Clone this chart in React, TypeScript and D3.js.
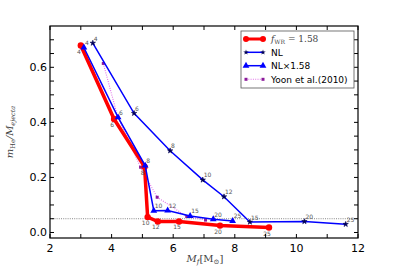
import React from 'react';
import * as d3 from 'd3';

// f_WR = 1.58 model
const redMass = [3.0, 4.08, 5.07, 5.17, 5.5, 6.19, 7.52, 9.11];
const redHe = [0.679, 0.412, 0.239, 0.056, 0.040, 0.040, 0.025, 0.018];
const redLabels = ['4', '6', '8', '10', '12', '15', '20', '25'];

// NL
const nlMass = [3.39, 4.73, 5.9, 6.96, 7.65, 8.49, 10.26, 11.6];
const nlHe = [0.688, 0.433, 0.297, 0.191, 0.130, 0.038, 0.040, 0.030];
const nlLabels = ['4', '6', '8', '10', '12', '15', '20', '25'];

// NL x 1.58
const nl158Mass = [3.1, 4.21, 5.09, 5.37, 5.82, 6.55, 7.3, 7.93];
const nl158He = [0.672, 0.418, 0.243, 0.079, 0.080, 0.060, 0.048, 0.042];
const nl158Labels = ['4', '6', '8', '10', '12', '15', '20', '25'];

// Yoon et al. (2010)
const yoonMass = [3.73, 4.2, 4.94, 5.48, 6.44, 7.05];
const yoonHe = [0.614, 0.42, 0.237, 0.128, 0.058, 0.045];

const xTicks = [2, 3, 4, 5, 6, 7, 8, 9, 10, 11, 12];
const yTicks = [0, 0.05, 0.1, 0.15, 0.2, 0.25, 0.3, 0.35, 0.4, 0.45, 0.5, 0.55, 0.6, 0.65, 0.7];
const yLabelTicks = [0, 0.2, 0.4, 0.6];
const xLabelTicks = [2, 4, 6, 8, 10, 12];

const W = 399;
const H = 266;
const left = 50, right = 358, top = 26, bottom = 238;

const RED = '#ff0000';
const BLUE = '#0000ff';
const PURPLE = '#8b1a9b';
const PINK = '#e070e8';

const x = d3.scaleLinear().domain([2, 12]).range([left, right]);
const y = d3.scaleLinear().domain([-0.02, 0.75]).range([bottom, top]);

const zip = (xs: number[], ys: number[]) => xs.map((v, i) => [v, ys[i]] as [number, number]);
const line = d3.line<[number, number]>().x(d => x(d[0])).y(d => y(d[1]));

const star = d3.symbol().type(d3.symbolStar).size(9)() as string;
const tri = d3.symbol().type(d3.symbolTriangle).size(20)() as string;
const sq = d3.symbol().type(d3.symbolSquare).size(9)() as string;

const sans = 'DejaVu Sans, sans-serif';
const serif = 'DejaVu Serif, serif';

export default function App() {
  const red = zip(redMass, redHe);
  const nl = zip(nlMass, nlHe);
  const nl158 = zip(nl158Mass, nl158He);
  const yoon = zip(yoonMass, yoonHe);

  return (
    <svg width={W} height={H} style={{ position: 'absolute', left: 0, top: 0, background: '#fff' }}>
      <defs>
        <clipPath id="plot">
          <rect x={left} y={top} width={right - left} height={bottom - top} />
        </clipPath>
      </defs>

      <g clipPath="url(#plot)">
        {/* reference level */}
        <line x1={x(2)} x2={x(12)} y1={y(0.05)} y2={y(0.05)} stroke="#888" strokeWidth={1} strokeDasharray="1,1.2" />

        {/* Yoon et al. */}
        <path d={line(yoon) || ''} fill="none" stroke={PINK} strokeWidth={1.1} strokeDasharray="1,1.3" />
        {yoon.map((d, i) => (
          <path key={'y' + i} d={sq} transform={`translate(${x(d[0])},${y(d[1])})`} fill={PURPLE} />
        ))}

        {/* NL */}
        <path d={line(nl) || ''} fill="none" stroke={BLUE} strokeWidth={1.5} />
        {nl.map((d, i) => (
          <path key={'n' + i} d={star} transform={`translate(${x(d[0])},${y(d[1])})`} fill="#000055" stroke="#000055" strokeWidth={0.6} />
        ))}

        {/* red */}
        <path d={line(red) || ''} fill="none" stroke={RED} strokeWidth={3.5} />
        {red.map((d, i) => (
          <circle key={'r' + i} cx={x(d[0])} cy={y(d[1])} r={3.2} fill={RED} />
        ))}

        {/* NL x 1.58 */}
        <path d={line(nl158) || ''} fill="none" stroke={BLUE} strokeWidth={1.5} />
        {nl158.map((d, i) => (
          <path key={'t' + i} d={tri} transform={`translate(${x(d[0])},${y(d[1])})`} fill={BLUE} />
        ))}
      </g>

      {/* point labels */}
      <g fontFamily={sans} fontSize={6} fill="#555">
        {red.map((d, i) => (
          <text key={'rl' + i} x={x(d[0]) - 2} y={y(d[1]) + 8} textAnchor="middle">{redLabels[i]}</text>
        ))}
        {nl.map((d, i) => (
          <text key={'nl' + i} x={x(d[0]) + 1} y={y(d[1]) - 2.5}>{nlLabels[i]}</text>
        ))}
        {nl158.map((d, i) => (
          <text key={'tl' + i} x={x(d[0]) + 1} y={y(d[1]) - 2.5}>{nl158Labels[i]}</text>
        ))}
      </g>

      {/* frame and ticks */}
      <rect x={left} y={top} width={right - left} height={bottom - top} fill="none" stroke="#000" strokeWidth={1.2} />
      <g stroke="#000" strokeWidth={1}>
        {xTicks.map(t => (
          <g key={'xt' + t}>
            <line x1={x(t)} x2={x(t)} y1={bottom} y2={bottom - 4} />
            <line x1={x(t)} x2={x(t)} y1={top} y2={top + 4} />
          </g>
        ))}
        {yTicks.map(t => (
          <g key={'yt' + t}>
            <line x1={left} x2={left + 4} y1={y(t)} y2={y(t)} />
            <line x1={right} x2={right - 4} y1={y(t)} y2={y(t)} />
          </g>
        ))}
      </g>
      <g fontFamily={sans} fontSize={11} fill="#000">
        {xLabelTicks.map(t => (
          <text key={'xl' + t} x={x(t)} y={bottom + 14} textAnchor="middle">{t}</text>
        ))}
        {yLabelTicks.map(t => (
          <text key={'yl' + t} x={left - 3} y={y(t) + 4} textAnchor="end">{d3.format('.1f')(t)}</text>
        ))}
      </g>

      {/* axis labels */}
      <text x={205} y={262} textAnchor="middle" fontFamily={serif} fontSize={10} fill="#444">
        <tspan fontStyle="italic">M</tspan>
        <tspan fontSize={7} dy={2} fontStyle="italic">f</tspan>
        <tspan dy={-2}>[M</tspan>
        <tspan fontSize={7} dy={2}>⊙</tspan>
        <tspan dy={-2}>]</tspan>
      </text>
      <text transform={`translate(13,${(top + bottom) / 2}) rotate(-90)`} textAnchor="middle" fontFamily={serif} fontSize={10} fill="#444">
        <tspan fontStyle="italic">m</tspan>
        <tspan fontSize={6.5} dy={2}>He</tspan>
        <tspan dy={-2} fontStyle="italic">/M</tspan>
        <tspan fontSize={6.5} dy={2} fontStyle="italic">ejecta</tspan>
      </text>

      {/* legend */}
      <g>
        <rect x={241} y={31} width={113} height={57} fill="#fff" stroke="#555" strokeWidth={0.8} />
        <line x1={246} x2={263} y1={39} y2={39} stroke={RED} strokeWidth={3} />
        <circle cx={246} cy={39} r={3} fill={RED} />
        <circle cx={263} cy={39} r={3} fill={RED} />
        <text x={271} y={42} fontFamily={serif} fontSize={9} fill="#444">
          <tspan fontStyle="italic">f</tspan>
          <tspan fontSize={6} dy={2}>WR</tspan>
          <tspan dy={-2}> = 1.58</tspan>
        </text>

        <line x1={246} x2={263} y1={52.3} y2={52.3} stroke={BLUE} strokeWidth={1.5} />
        <path d={star} transform="translate(246,52.3)" fill="#000055" />
        <path d={star} transform="translate(263,52.3)" fill="#000055" />
        <text x={271} y={55.5} fontFamily={sans} fontSize={9} fill="#000">NL</text>

        <line x1={246} x2={263} y1={65.7} y2={65.7} stroke={BLUE} strokeWidth={1.5} />
        <path d={tri} transform="translate(246,65.7)" fill={BLUE} />
        <path d={tri} transform="translate(263,65.7)" fill={BLUE} />
        <text x={271} y={69} fontFamily={sans} fontSize={9} fill="#000">NL×1.58</text>

        <line x1={246} x2={263} y1={79.3} y2={79.3} stroke={PINK} strokeWidth={1.1} strokeDasharray="1,1.3" />
        <path d={sq} transform="translate(246,79.3)" fill={PURPLE} />
        <path d={sq} transform="translate(263,79.3)" fill={PURPLE} />
        <text x={271} y={82.5} fontFamily={sans} fontSize={9} fill="#000">Yoon et al.(2010)</text>
      </g>
    </svg>
  );
}
